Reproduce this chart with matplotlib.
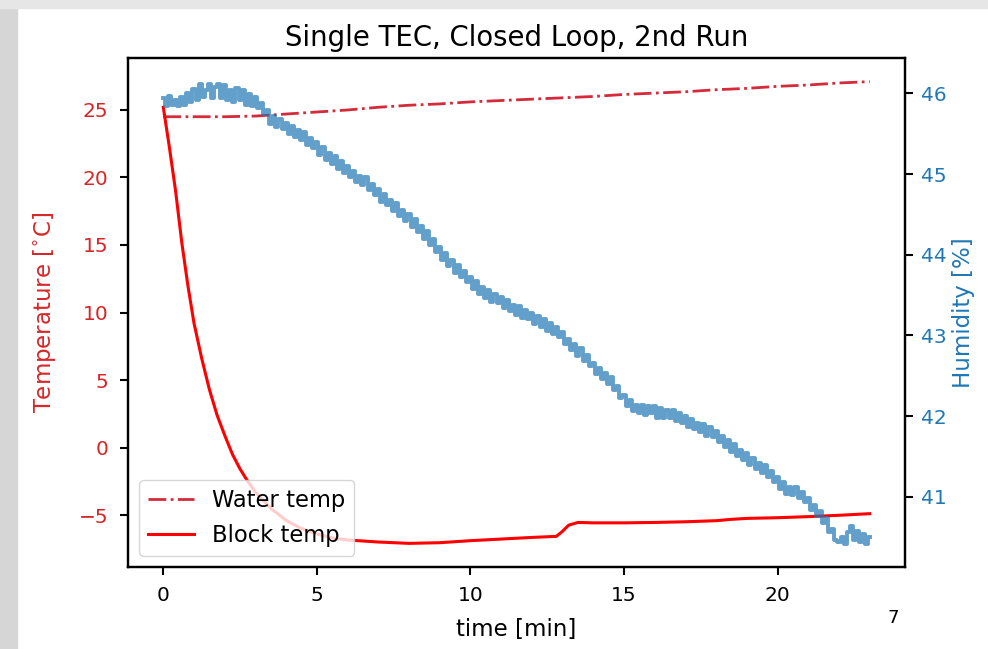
import numpy as np
import matplotlib
matplotlib.use("Agg")
from matplotlib import pyplot as plt
from matplotlib.patches import Rectangle

plt.rcParams["font.family"] = ["DejaVu Sans"]
plt.rcParams.update({
    "xtick.labelsize": 14.5,
    "ytick.labelsize": 14.5,
    "xtick.major.size": 6,
    "ytick.major.size": 6,
    "xtick.major.width": 1.5,
    "ytick.major.width": 1.5,
    "xtick.major.pad": 8,
    "ytick.major.pad": 8,
    "axes.linewidth": 1.6,
})

# block temperature (deg C) vs time (min)
block_t = [0, 0.2, 0.4, 0.6, 0.8, 1.0, 1.25, 1.5, 1.75, 2.0, 2.25, 2.5, 2.75,
           3.0, 3.5, 4.0, 4.5, 5.0, 5.5, 6.0, 7.0, 8.0, 9.0, 10.0, 11.0, 12.0,
           12.8, 13.0, 13.2, 13.5, 14.0, 15.0, 16.0, 17.0, 18.0, 18.5, 19.0,
           20.0, 21.0, 22.0, 23.0]
block_temp = [25.2, 22.2, 19.0, 15.2, 12.0, 9.2, 6.6, 4.3, 2.4, 0.9, -0.5, -1.6,
              -2.5, -3.3, -4.5, -5.4, -6.0, -6.4, -6.7, -6.85, -7.0, -7.1, -7.05,
              -6.9, -6.78, -6.66, -6.58, -6.2, -5.75, -5.55, -5.58, -5.58, -5.55,
              -5.5, -5.42, -5.32, -5.25, -5.2, -5.12, -5.02, -4.9]

# water temperature (deg C), one reading per minute
water_t = list(range(24))
water_temp = [24.5, 24.5, 24.5, 24.55, 24.7, 24.85, 25.0, 25.2, 25.35, 25.45,
              25.6, 25.7, 25.8, 25.9, 26.0, 26.15, 26.25, 26.35, 26.5, 26.6,
              26.75, 26.85, 27.0, 27.1]

# humidity (%), one reading every 0.1 min from 0 to 23 min
hum_t = [round(0.1 * i, 1) for i in range(231)]
humidity = [
    45.94, 45.84, 45.97, 45.86, 45.92, 45.85, 45.96, 45.86, 46.00, 45.90,
    46.06, 45.92, 46.12, 45.96, 46.04, 46.12, 45.94, 46.08, 46.12, 45.95,
    46.10, 45.92, 46.04, 45.90, 46.07, 45.92, 46.04, 45.86, 45.99, 45.84,
    45.96, 45.82, 45.88, 45.74, 45.80, 45.62, 45.72, 45.58, 45.68, 45.56,
    45.64, 45.50, 45.60, 45.46, 45.55, 45.42, 45.52, 45.36, 45.45, 45.32,
    45.40, 45.24, 45.34, 45.18, 45.26, 45.12, 45.22, 45.06, 45.16, 45.02,
    45.10, 44.96, 45.04, 44.90, 44.98, 44.86, 44.96, 44.80, 44.88, 44.74,
    44.82, 44.66, 44.76, 44.62, 44.68, 44.54, 44.64, 44.48, 44.56, 44.42,
    44.50, 44.34, 44.44, 44.28, 44.36, 44.20, 44.30, 44.12, 44.20, 44.04,
    44.10, 43.94, 44.02, 43.86, 43.94, 43.78, 43.88, 43.72, 43.80, 43.66,
    43.72, 43.58, 43.68, 43.52, 43.60, 43.46, 43.56, 43.42, 43.52, 43.40,
    43.48, 43.34, 43.44, 43.30, 43.38, 43.26, 43.36, 43.22, 43.32, 43.20,
    43.28, 43.14, 43.24, 43.10, 43.20, 43.06, 43.16, 43.02, 43.10, 42.98,
    43.04, 42.90, 42.96, 42.82, 42.90, 42.74, 42.84, 42.68, 42.76, 42.62,
    42.66, 42.52, 42.60, 42.46, 42.54, 42.40, 42.48, 42.32, 42.38, 42.22,
    42.26, 42.12, 42.20, 42.06, 42.14, 42.04, 42.14, 42.02, 42.12, 42.04,
    42.12, 41.98, 42.10, 41.98, 42.08, 41.98, 42.08, 41.94, 42.04, 41.92,
    42.00, 41.86, 41.96, 41.84, 41.92, 41.80, 41.90, 41.76, 41.86, 41.74,
    41.82, 41.68, 41.76, 41.62, 41.70, 41.56, 41.66, 41.50, 41.58, 41.46,
    41.54, 41.40, 41.48, 41.34, 41.42, 41.30, 41.40, 41.24, 41.32, 41.18,
    41.24, 41.10, 41.18, 41.04, 41.12, 41.02, 41.12, 40.98, 41.06, 40.94,
    40.98, 40.84, 40.90, 40.76, 40.82, 40.68, 40.74, 40.56, 40.60, 40.46,
    40.44, 40.50, 40.42, 40.56, 40.64, 40.46, 40.58, 40.44, 40.54, 40.42,
    40.50,
]

fig = plt.figure(figsize=(9.88, 6.49), dpi=100)
# slide background edges
fig.patches.append(Rectangle((0, 0), 17 / 988, 1, transform=fig.transFigure,
                             color="#d6d6d6", zorder=-10))
fig.patches.append(Rectangle((0, 1 - 8 / 649), 1, 8 / 649, transform=fig.transFigure,
                             color="#e6e6e6", zorder=-10))

ax = fig.add_axes([128 / 988, 82 / 649, 777 / 988, 509 / 649])
ax.plot(water_t, water_temp, "-.", color="#d42a3a", lw=2, label="Water temp")
ax.plot(block_t, block_temp, "-", color="red", lw=2.2, label="Block temp")
ax.set_xlim(-1.15, 24.15)
ax.set_ylim(-8.85, 28.85)
ax.set_xticks([0, 5, 10, 15, 20])
ax.set_yticks([-5, 0, 5, 10, 15, 20, 25])
ax.set_xlabel("time [min]", fontsize=16.5)
ax.set_ylabel("Temperature [$^{\\circ}$C]", color="tab:red", fontsize=16.5)
ax.xaxis.set_label_coords(0.5, -0.1)
ax.yaxis.set_label_coords(-0.09, 0.5)
for lbl in ax.get_yticklabels():
    lbl.set_color("tab:red")
ax.set_title("Single TEC, Closed Loop, 2nd Run", fontsize=19.8, pad=9)
ax.legend(loc="lower left", fontsize=16.3)

plt.rcParams["ytick.major.pad"] = 5.5
ax2 = ax.twinx()
ax2.plot(hum_t, humidity, color="tab:blue", alpha=0.7, lw=2.8, drawstyle="steps-mid")
ax2.set_ylim(40.13, 46.44)
ax2.set_yticks([41, 42, 43, 44, 45, 46])
ax2.set_ylabel("Humidity [%]", color="tab:blue", fontsize=16.5)
for lbl in ax2.get_yticklabels():
    lbl.set_color("tab:blue")

fig.text(893 / 988, 1 - 618 / 649, "7", fontsize=13, ha="center", va="center")

fig.savefig("out.png", dpi=100)
